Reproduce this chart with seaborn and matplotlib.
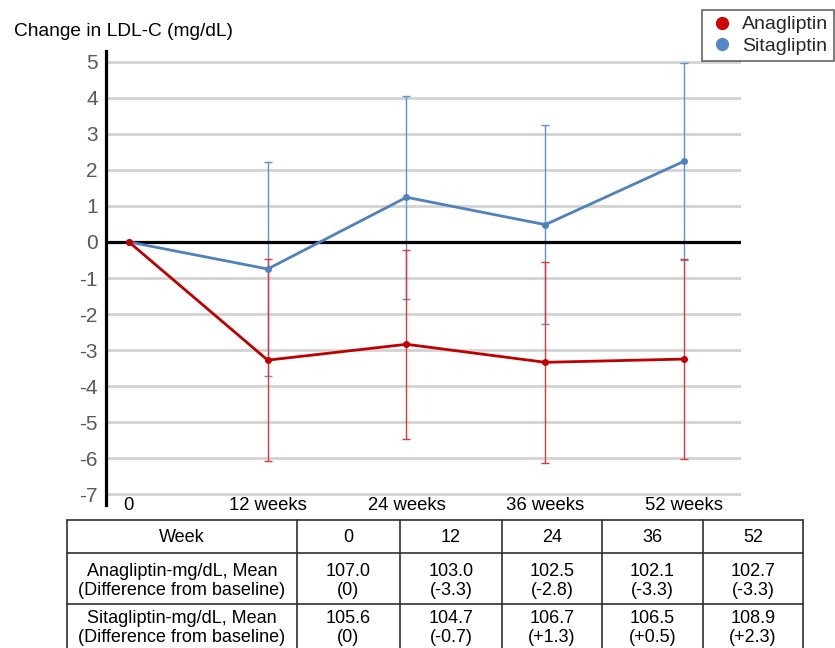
import numpy as np
import pandas as pd
import seaborn as sns
import matplotlib.pyplot as plt
from matplotlib.lines import Line2D

# data
weeks = ["0", "12 weeks", "24 weeks", "36 weeks", "52 weeks"]
anag_change = [0, -3.28, -2.84, -3.34, -3.25]
anag_err = [0, 2.80, 2.63, 2.79, 2.77]
sita_change = [0, -0.75, 1.24, 0.48, 2.24]
sita_err = [0, 2.98, 2.81, 2.76, 2.74]

table_header = ["Week", "0", "12", "24", "36", "52"]
anag_row = ["Anagliptin-mg/dL, Mean\n(Difference from baseline)",
            "107.0\n(0)", "103.0\n(-3.3)", "102.5\n(-2.8)", "102.1\n(-3.3)", "102.7\n(-3.3)"]
sita_row = ["Sitagliptin-mg/dL, Mean\n(Difference from baseline)",
            "105.6\n(0)", "104.7\n(-0.7)", "106.7\n(+1.3)", "106.5\n(+0.5)", "108.9\n(+2.3)"]

red_line, red_bar = "#C00000", "#E0383C"
blue_line, blue_bar = "#4F81BD", "#5B93D3"

sns.set_theme(style="white")
plt.rcParams["font.family"] = ["Liberation Sans", "DejaVu Sans"]
plt.rcParams["axes.unicode_minus"] = False

W, H = 835, 648
fig = plt.figure(figsize=(W / 100, H / 100), dpi=100)
ax = fig.add_axes([106 / W, 1 - 505 / H, (741 - 106) / W, (505 - 51) / H])

pos = np.arange(len(weeks))
df = pd.DataFrame({"pos": np.concatenate([pos, pos]),
                   "change": anag_change + sita_change,
                   "err": anag_err + sita_err,
                   "drug": ["Anagliptin"] * 5 + ["Sitagliptin"] * 5})
anag = df[df.drug == "Anagliptin"]
sita = df[df.drug == "Sitagliptin"]

# error bars (not at baseline)
ax.errorbar(sita.pos[1:], sita.change[1:], yerr=sita.err[1:], fmt="none",
            ecolor=blue_bar, elinewidth=1, capsize=3, capthick=1, zorder=3)
ax.errorbar(anag.pos[1:], anag.change[1:], yerr=anag.err[1:], fmt="none",
            ecolor=red_bar, elinewidth=1, capsize=3, capthick=1, zorder=4)

sns.lineplot(data=sita, x="pos", y="change", color=blue_line, lw=2,
             marker="o", markersize=5, markeredgewidth=0, ax=ax, zorder=5)
sns.lineplot(data=anag, x="pos", y="change", color=red_line, lw=2,
             marker="o", markersize=5, markeredgewidth=0, ax=ax, zorder=6)

ax.axhline(0, color="black", lw=2.3, zorder=4.5)
ax.set_ylim(-7.3, 5.3)
ax.set_xlim(-0.165, 4.41)
ax.set_yticks(range(-7, 6))
ax.set_xticks(pos)
ax.set_xticklabels(weeks)
ax.yaxis.grid(True, color="#D3D3D3", lw=2)
ax.set_axisbelow(True)
ax.set_xlabel("")
ax.set_ylabel("")
for s in ["top", "right", "bottom"]:
    ax.spines[s].set_visible(False)
ax.spines["left"].set_color("black")
ax.spines["left"].set_linewidth(2.3)
ax.tick_params(axis="y", length=0, pad=6, labelsize=15, labelcolor="#595959")
ax.tick_params(axis="x", length=0, pad=-6, labelsize=13.3, labelcolor="black")

fig.text(14 / W, 1 - 32 / H, "Change in LDL-C (mg/dL)", fontsize=13.8,
         va="center", ha="left", color="black")

handles = [Line2D([], [], ls="none", marker="o", markersize=8.5, color="#D00000"),
           Line2D([], [], ls="none", marker="o", markersize=8.5, color="#5088C8")]
leg = fig.legend(handles, ["Anagliptin", "Sitagliptin"], loc="upper left",
                 bbox_to_anchor=(702 / W, 1 - 10 / H), fontsize=14,
                 frameon=True, fancybox=False, borderpad=0.3, handletextpad=0.25,
                 labelspacing=0.2, handlelength=1.5, borderaxespad=0)
leg.get_frame().set_edgecolor("#404040")
leg.get_frame().set_linewidth(1.2)

# table below the chart
tab = fig.add_axes([0, 0, 1, 1])
tab.set_xlim(0, W)
tab.set_ylim(H, 0)
tab.axis("off")
col_edges = [67, 297, 400, 502, 602, 703, 803]
row_edges = [520, 553, 604, 655]
text_centres = [537, 581, 628]
for y in row_edges:
    tab.plot([col_edges[0], col_edges[-1]], [y, y], color="#303030", lw=1.2)
for x in col_edges:
    tab.plot([x, x], [row_edges[0], row_edges[-1]], color="#303030", lw=1.2)
for r, row in enumerate([table_header, anag_row, sita_row]):
    yc = text_centres[r]
    for c, txt in enumerate(row):
        xc = (col_edges[c] + col_edges[c + 1]) / 2
        tab.text(xc, yc, txt, ha="center", va="center", fontsize=13,
                 linespacing=1.2, color="black")

fig.savefig("out.png", dpi=100)
